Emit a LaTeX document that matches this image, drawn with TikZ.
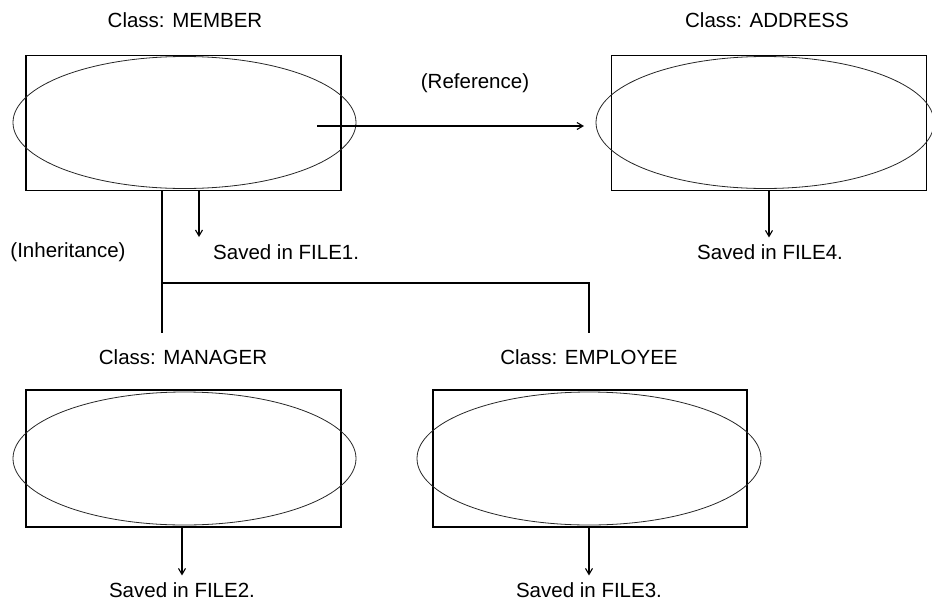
\documentclass[tikz,border=0pt]{standalone}
\usepackage{fontspec}
\setmainfont{Liberation Sans}
\usetikzlibrary{arrows.meta,positioning,shapes.geometric}

\tikzset{
  classbox/.style={draw, line width=1.1pt, minimum width=315pt, minimum height=135pt, inner sep=0pt},
  classoval/.style={draw=black!85, ellipse, line width=0.8pt, minimum width=343pt, minimum height=132pt, inner sep=0pt},
  lbl/.style={font=\fontsize{20.5}{24}\selectfont, inner sep=0pt},
  savedlbl/.style={lbl, outer sep=7pt},
  arr/.style={-{Straight Barb[length=6pt,width=7pt]}, line width=1.1pt},
  link/.style={line width=1.1pt}
}

\begin{document}
\begin{tikzpicture}[x=1pt,y=-1pt]
  \useasboundingbox (0,0) rectangle (932,603);

  % Class MEMBER
  \node[classbox] (member) at (183.5,123) {};
  \node[classoval] (memberoval) at (184.5,122.5) {};
  \node[lbl] (membertitle) at (185,20) {Class: MEMBER};

  % Class ADDRESS
  \node[classbox] (address) at (769,123) {};
  \node[classoval, minimum width=338pt] (addressoval) at (765,122.5) {};
  \node[lbl] (addresstitle) at (767,20) {Class: ADDRESS};

  % Class MANAGER
  \node[classbox, minimum height=137pt] (manager) at (183.5,458.5) {};
  \node[classoval, minimum height=133pt] (manageroval) at (184.5,458.5) {};
  \node[lbl] (managertitle) at (183,357) {Class: MANAGER};

  % Class EMPLOYEE
  \node[classbox, minimum width=314pt, minimum height=137pt] (employee) at (590,458.5) {};
  \node[classoval, minimum width=344pt, minimum height=133pt] (employeeoval) at (589,458.5) {};
  \node[lbl] (employeetitle) at (589,357) {Class: EMPLOYEE};

  % Reference
  \coordinate (refstart) at (317,126);
  \coordinate (refend) at (584,126);
  \draw[arr] (refstart) -- (refend);
  \node[lbl] (reflbl) at (475,83) {(Reference)};

  % Saved in files
  \node[lbl, anchor=west] (file1) at (213,252) {Saved in FILE1.};
  \coordinate (file1arr) at (199,237);
  \draw[arr] (member.south -| file1arr) -- (file1arr);

  \node[savedlbl] (file4) at (770,252) {Saved in FILE4.};
  \draw[arr] (address.south) -- (address.south |- file4.north);

  \node[savedlbl] (file2) at (182,590) {Saved in FILE2.};
  \draw[arr] (manager.south -| file2.north) -- (file2.north);

  \node[savedlbl] (file3) at (589,590) {Saved in FILE3.};
  \draw[arr] (employee.south -| file3.north) -- (file3.north);

  % Inheritance
  \coordinate (inhleft) at (162,333);
  \coordinate (inhright) at (589,333);
  \coordinate (inhjoin) at (162,283);
  \draw[link] (member.south -| inhleft) -- (inhleft);
  \draw[link] (inhjoin) -- (inhjoin -| inhright) -- (inhright);
  \node[lbl] (inhlbl) at (68,252) {(Inheritance)};
\end{tikzpicture}
\end{document}
